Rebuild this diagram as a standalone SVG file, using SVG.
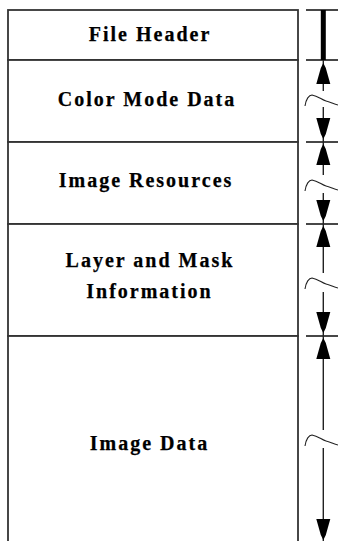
<svg xmlns="http://www.w3.org/2000/svg" xmlns:xlink="http://www.w3.org/1999/xlink" width="338" height="541" viewBox="0 0 338 541">
  <style>
    .box { fill: #ffffff; stroke: #333333; stroke-width: 1.8; }
    .label { font-family: "Liberation Serif", "Times New Roman", serif; font-weight: bold; font-size: 20px; letter-spacing: 2px; fill: #000000; stroke: #000000; stroke-width: 0.25; text-anchor: middle; }
    .tick { stroke: #333333; stroke-width: 1.8; fill: none; }
    .dim { stroke: #222222; stroke-width: 1.4; fill: none; }
    .brk { stroke: #222222; stroke-width: 1.1; fill: none; }
    .head { fill: #000000; stroke: none; }
  </style>
  <defs>
    <!-- arrowhead pointing up, tip at origin -->
    <path id="ah" d="M0,0 L2.5,5 L7,21 L-7,21 L-2.5,5 Z"/>
    <!-- break mark drawn across the dimension line, top of curve at origin -->
    <path id="brk" d="M-18,11 C-17,4 -14,0 -11,0 C-5,1 -1,5 3,6 C7,7 11,9 15,10"/>
  </defs>

  <rect width="338" height="541" fill="#ffffff"/>

  <g id="file-header">
    <rect class="box" x="8" y="10" width="290" height="50"/>
    <text class="label" x="150" y="41">File Header</text>
  </g>
  <g id="color-mode-data">
    <rect class="box" x="8" y="60" width="290" height="82"/>
    <text class="label" x="147" y="106">Color Mode Data</text>
  </g>
  <g id="image-resources">
    <rect class="box" x="8" y="142" width="290" height="82"/>
    <text class="label" x="146" y="187">Image Resources</text>
  </g>
  <g id="layer-mask-info">
    <rect class="box" x="8" y="224" width="290" height="112"/>
    <text class="label" x="150" y="267">Layer and Mask</text>
    <text class="label" x="149.5" y="298">Information</text>
  </g>
  <g id="image-data">
    <rect class="box" x="8" y="336" width="290" height="215"/>
    <text class="label" x="149.5" y="450">Image Data</text>
  </g>

  <g id="connectors">
    <!-- extension ticks at section boundaries -->
    <line class="tick" x1="306" y1="10" x2="338" y2="10"/>
    <line class="tick" x1="306" y1="60" x2="338" y2="60"/>
    <line class="tick" x1="306" y1="142" x2="338" y2="142"/>
    <line class="tick" x1="306" y1="224" x2="338" y2="224"/>
    <line class="tick" x1="306" y1="336" x2="338" y2="336"/>

    <!-- fixed-size header: solid bar -->
    <rect x="320.8" y="10" width="5" height="50" fill="#000000"/>

    <!-- color mode data -->
    <line class="dim" x1="323.3" y1="60" x2="323.3" y2="91"/>
    <line class="dim" x1="323.3" y1="107" x2="323.3" y2="142"/>
    <use xlink:href="#ah" class="head" transform="translate(323.3,63)"/>
    <use xlink:href="#ah" class="head" transform="translate(323.3,139) scale(1,-1)"/>
    <use xlink:href="#brk" class="brk" transform="translate(323,95)"/>

    <!-- image resources -->
    <line class="dim" x1="323.3" y1="142" x2="323.3" y2="175"/>
    <line class="dim" x1="323.3" y1="193" x2="323.3" y2="224"/>
    <use xlink:href="#ah" class="head" transform="translate(323.3,144)"/>
    <use xlink:href="#ah" class="head" transform="translate(323.3,221) scale(1,-1)"/>
    <use xlink:href="#brk" class="brk" transform="translate(323,180)"/>

    <!-- layer and mask information -->
    <line class="dim" x1="323.3" y1="224" x2="323.3" y2="273"/>
    <line class="dim" x1="323.3" y1="292" x2="323.3" y2="336"/>
    <use xlink:href="#ah" class="head" transform="translate(323.3,226)"/>
    <use xlink:href="#ah" class="head" transform="translate(323.3,333) scale(1,-1)"/>
    <use xlink:href="#brk" class="brk" transform="translate(323,278)"/>

    <!-- image data -->
    <line class="dim" x1="323.3" y1="336" x2="323.3" y2="430"/>
    <line class="dim" x1="323.3" y1="448" x2="323.3" y2="541"/>
    <use xlink:href="#ah" class="head" transform="translate(323.3,338)"/>
    <use xlink:href="#ah" class="head" transform="translate(323.3,540) scale(1,-1)"/>
    <use xlink:href="#brk" class="brk" transform="translate(323,435)"/>
  </g>
</svg>
